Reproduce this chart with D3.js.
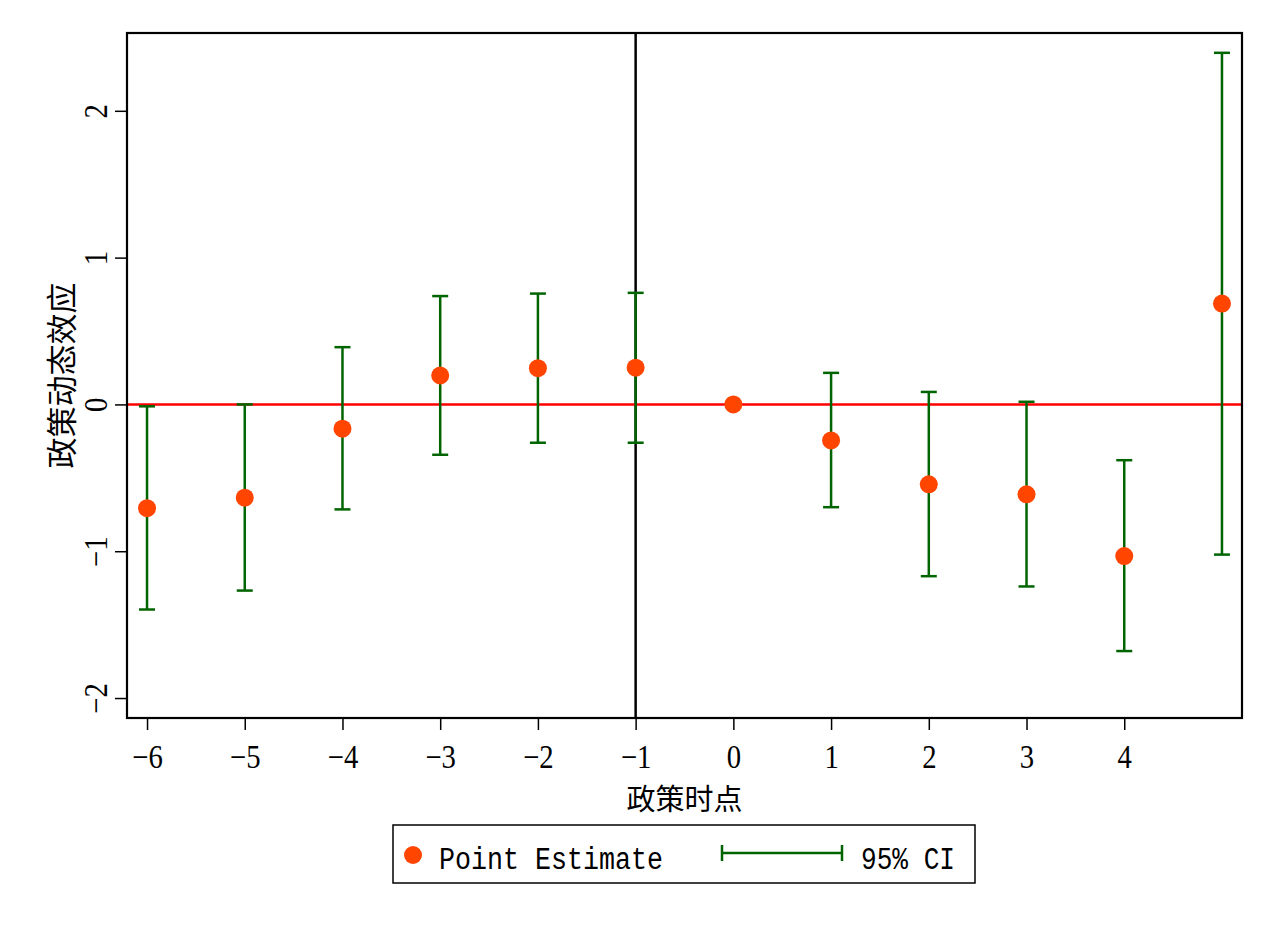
<!DOCTYPE html>
<html><head><meta charset="utf-8">
<script src="https://cdn.jsdelivr.net/npm/d3@7"></script>
<style>body{margin:0;background:#fff}</style>
</head><body>
<svg id="c" width="1276" height="928"></svg>
<script>
const periods = [-6,-5,-4,-3,-2,-1,0,1,2,3,4,5];
const estimates = [-0.707,-0.635,-0.165,0.197,0.247,0.25,0,-0.245,-0.544,-0.612,-1.033,0.687];
const ciLow =  [-1.397,-1.268,-0.715,-0.343,-0.261,-0.261,null,-0.70,-1.17,-1.24,-1.68,-1.023];
const ciHigh = [-0.013,0.0,0.39,0.738,0.755,0.76,null,0.215,0.085,0.018,-0.38,2.395];
const xTicks = [-6,-5,-4,-3,-2,-1,0,1,2,3,4];
const yTicks = [-2,-1,0,1,2];
const xTitle = "政策时点", yTitle = "政策动态效应";
const legendLabels = ["Point Estimate","95% CI"];

const svg = d3.select("#c");
const L=127,R=1242,T=33,B=718;
const x = d3.scaleLinear().domain([-6.205,5.205]).range([L,R]);
const y = d3.scaleLinear().domain([-2.136,2.53]).range([B,T]);
const green="#006400", orange="#FF4500";
const numFont="'Liberation Serif', serif";
const fmt = d=>d<0?"\u2212"+(-d):String(d);

// axes
const xa = svg.append("g").attr("transform",`translate(0,${B})`)
  .call(d3.axisBottom(x).tickValues(xTicks).tickSize(12).tickPadding(15).tickFormat(fmt));
xa.select(".domain").remove();
xa.selectAll("line").attr("stroke","#000").attr("stroke-width",1.5);
xa.selectAll("text").attr("font-family",numFont).attr("font-size",33).attr("fill","#000")
  .attr("transform","scale(0.87,1)").attr("x",0);

const ya = svg.append("g").attr("transform",`translate(${L},0)`)
  .call(d3.axisLeft(y).tickValues(yTicks).tickSize(12).tickPadding(0).tickFormat(fmt));
ya.select(".domain").remove();
ya.selectAll("line").attr("stroke","#000").attr("stroke-width",1.5);
ya.selectAll("text").attr("font-family",numFont).attr("font-size",33).attr("fill","#000")
  .attr("x",0).attr("dy",0).attr("text-anchor","middle")
  .attr("transform","translate(-20,0) rotate(-90) scale(0.87,1)");

// reference lines
svg.append("line").attr("x1",x(-1)).attr("x2",x(-1)).attr("y1",T).attr("y2",B)
  .attr("stroke","#000").attr("stroke-width",2.5);
svg.append("line").attr("x1",L).attr("x2",R).attr("y1",y(0)).attr("y2",y(0))
  .attr("stroke","#FF0000").attr("stroke-width",2.5);

// CIs
const data = periods.map((p,i)=>({p,e:estimates[i],lo:ciLow[i],hi:ciHigh[i]}));
const ci = svg.append("g").attr("stroke",green).attr("stroke-width",2.5);
data.filter(d=>d.lo!==null).forEach(d=>{
  ci.append("line").attr("x1",x(d.p)).attr("x2",x(d.p)).attr("y1",y(d.lo)).attr("y2",y(d.hi));
  ci.append("line").attr("x1",x(d.p)-8).attr("x2",x(d.p)+8).attr("y1",y(d.lo)).attr("y2",y(d.lo));
  ci.append("line").attr("x1",x(d.p)-8).attr("x2",x(d.p)+8).attr("y1",y(d.hi)).attr("y2",y(d.hi));
});
svg.append("g").selectAll("circle").data(data).join("circle")
  .attr("cx",d=>x(d.p)).attr("cy",d=>y(d.e)).attr("r",9).attr("fill",orange);

// frame
svg.append("rect").attr("x",L).attr("y",T).attr("width",R-L).attr("height",B-T)
  .attr("fill","none").attr("stroke","#000").attr("stroke-width",2.2);

// titles
const cjk="'Noto Sans CJK SC', sans-serif";
svg.append("text").attr("x",(L+R)/2).attr("y",810).attr("text-anchor","middle")
  .attr("font-family",cjk).attr("font-size",29).attr("fill","#000").text(xTitle);
svg.append("text").attr("transform",`translate(73,${(T+B)/2}) rotate(-90)`).attr("text-anchor","middle")
  .attr("font-family",cjk).attr("font-size",31).attr("fill","#000").text(yTitle);

// legend
const lg = svg.append("g");
lg.append("rect").attr("x",393).attr("y",825).attr("width",582).attr("height",58)
  .attr("fill","#fff").attr("stroke","#000").attr("stroke-width",1.5);
lg.append("circle").attr("cx",413).attr("cy",855).attr("r",9).attr("fill",orange);
const monoF="'Liberation Mono', monospace";
lg.append("text").attr("x",439).attr("y",869).attr("font-family",monoF).attr("font-size",31)
  .attr("textLength",224).attr("lengthAdjust","spacingAndGlyphs").attr("fill","#000").text(legendLabels[0]);
const lci = lg.append("g").attr("stroke",green).attr("stroke-width",2.5);
lci.append("line").attr("x1",722).attr("x2",842).attr("y1",853).attr("y2",853);
lci.append("line").attr("x1",722).attr("x2",722).attr("y1",845).attr("y2",861);
lci.append("line").attr("x1",842).attr("x2",842).attr("y1",845).attr("y2",861);
lg.append("text").attr("x",861).attr("y",869).attr("font-family",monoF).attr("font-size",31)
  .attr("textLength",94).attr("lengthAdjust","spacingAndGlyphs").attr("fill","#000").text(legendLabels[1]);
</script>
</body></html>
